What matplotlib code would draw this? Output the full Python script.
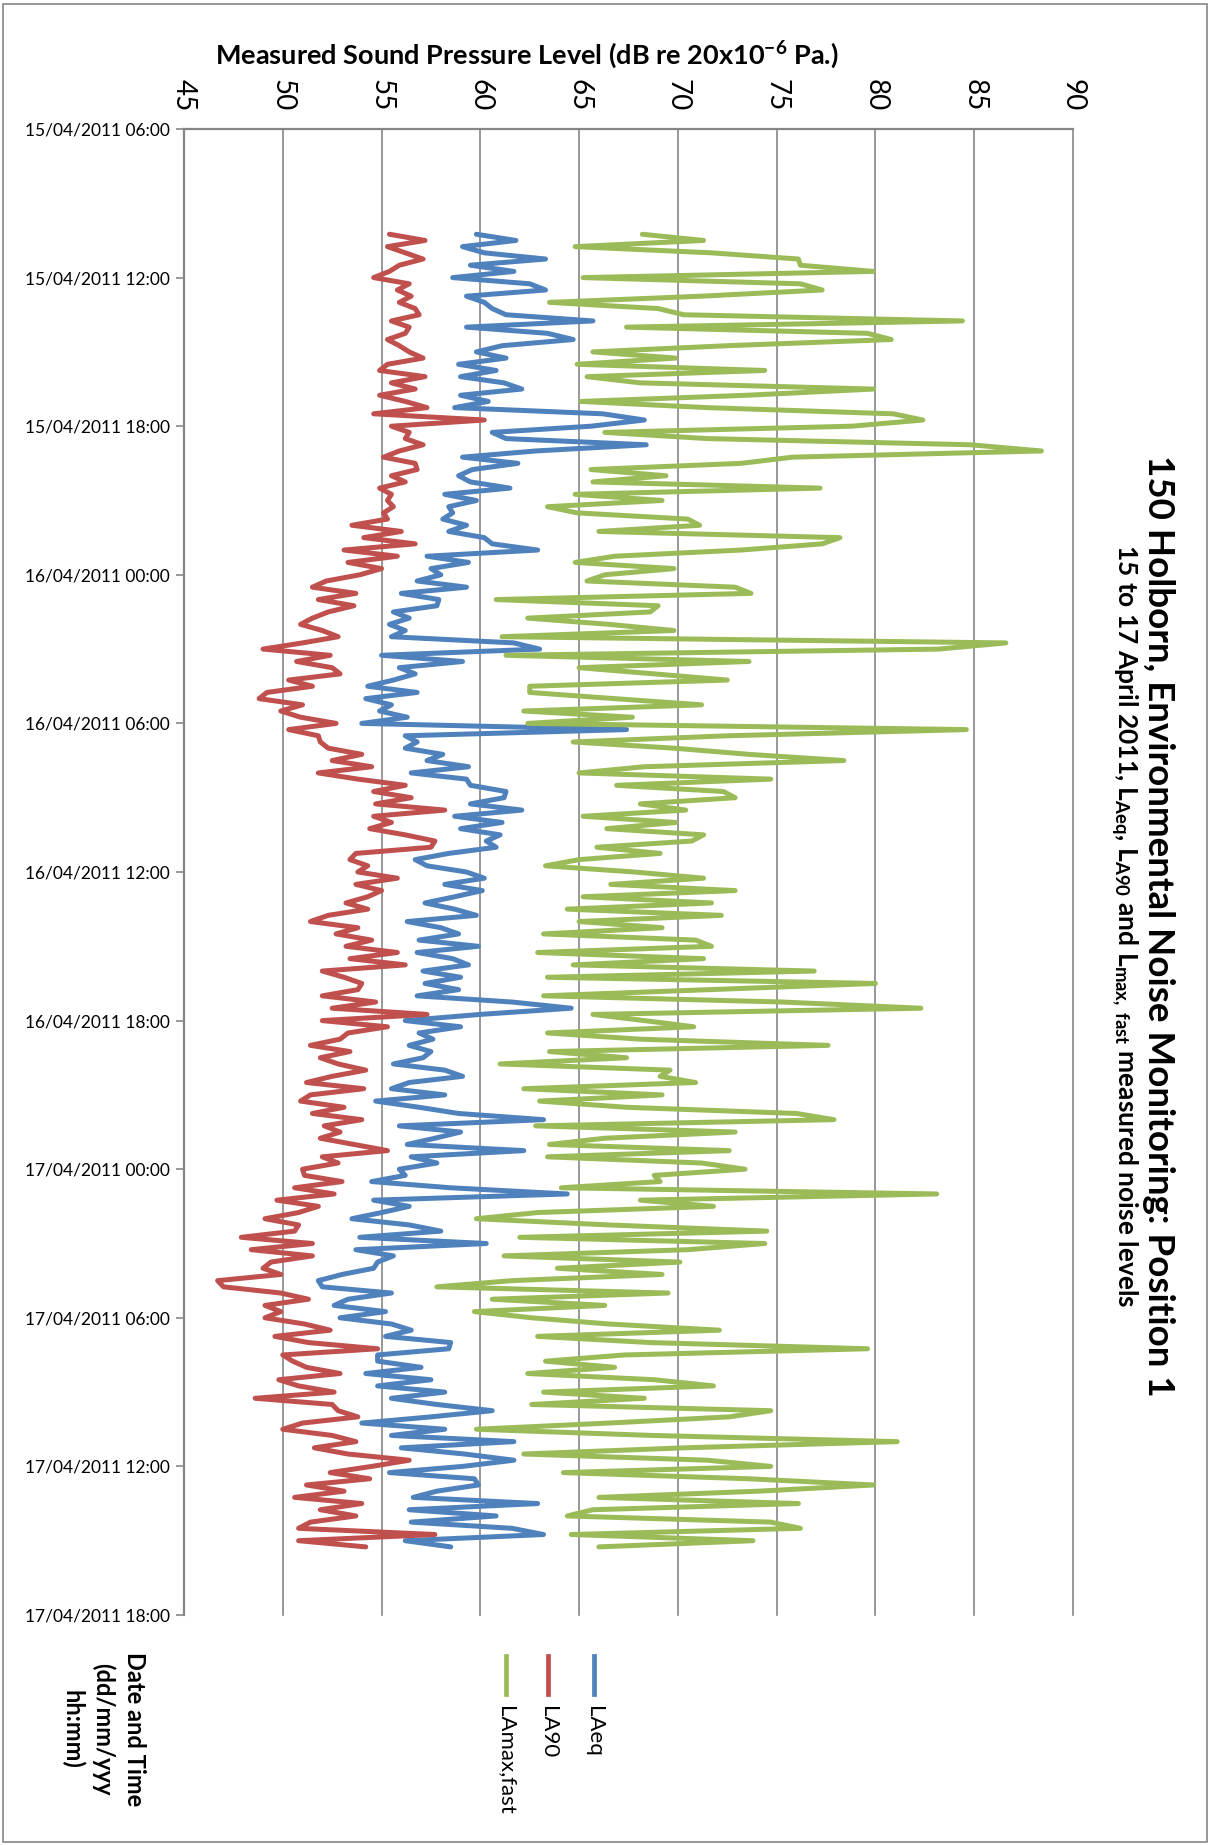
import matplotlib
matplotlib.use("Agg")
import matplotlib.pyplot as plt
import matplotlib.dates as mdates
from matplotlib.lines import Line2D
from matplotlib.patches import Rectangle
import datetime as dt
import pandas as pd

# 15 minute readings starting 15/04/2011 10:15
start = "2011-04-15 10:15"

laeq = [
    59.8, 61.8, 59.1, 60.2, 63.3, 59.5, 61.7, 58.6, 62.5, 63.3, 59.3, 60.2, 60.6, 61.3, 65.7,
    59.3, 63.4, 64.7, 61.1, 59.8, 61.3, 58.9, 60.8, 59.0, 61.2, 62.1, 59.0, 60.4, 58.7, 66.2,
    68.3, 65.6, 60.6, 61.3, 68.4, 62.8, 59.1, 61.9, 59.6, 58.9, 59.5, 61.5, 58.2, 59.8, 58.4,
    58.6, 58.1, 59.3, 58.4, 60.2, 60.6, 62.9, 57.3, 59.4, 57.5, 58.0, 56.8, 59.3, 56.0, 57.9,
    57.8, 55.6, 56.4, 55.4, 56.2, 55.5, 61.7, 63.0, 55.0, 59.1, 55.9, 56.7, 55.6, 54.3, 56.8,
    54.2, 55.5, 54.9, 56.3, 54.0, 67.4, 56.2, 56.8, 56.2, 58.1, 57.3, 59.4, 56.5, 59.3, 59.5, 61.3,
    61.2, 59.5, 62.1, 58.7, 61.1, 59.0, 61.0, 60.3, 60.8, 58.4, 56.7, 57.3, 59.3, 60.2, 58.2,
    60.1, 58.7, 57.2, 58.7, 59.8, 56.3, 58.0, 58.9, 56.9, 59.9, 56.8, 58.6, 59.4, 57.1, 59.0, 57.2,
    58.9, 56.8, 61.6, 64.6, 60.0, 56.2, 59.0, 56.9, 57.6, 56.4, 57.5, 57.1, 55.6, 58.2, 59.1,
    56.4, 55.5, 58.2, 54.7, 56.9, 58.9, 63.2, 55.9, 59.0, 57.7, 56.3, 62.2, 56.5, 57.8, 55.9,
    56.2, 54.5, 58.5, 64.4, 54.6, 56.4, 55.0, 53.5, 56.4, 58.0, 53.9, 60.3, 53.7, 55.6, 54.8,
    54.6, 53.0, 51.8, 52.0, 55.5, 53.3, 52.6, 55.2, 52.9, 55.5, 56.5, 55.2, 58.5, 58.4, 54.8, 54.8,
    57.0, 54.2, 57.5, 54.8, 58.2, 55.5, 57.8, 60.6, 57.5, 54.0, 58.2, 55.5, 61.7, 56.0, 59.2,
    61.7, 59.1, 55.4, 59.7, 59.9, 57.8, 56.6, 62.9, 56.4, 60.8, 56.5, 61.6, 63.2, 56.2, 58.5,
]

la90 = [
    55.4, 57.2, 55.3, 56.2, 57.1, 55.9, 55.4, 54.6, 56.4, 55.8, 56.5, 55.9, 56.7, 56.9, 55.5,
    56.4, 56.2, 55.3, 55.9, 56.4, 57.1, 55.3, 54.9, 57.2, 55.5, 56.7, 54.9, 56.2, 57.3, 54.6,
    60.2, 55.5, 56.4, 56.2, 57.1, 55.9, 55.1, 56.7, 56.8, 55.5, 56.2, 54.9, 55.5, 55.3, 55.6,
    55.1, 55.3, 53.5, 56.0, 54.1, 56.7, 53.1, 55.8, 53.3, 55.0, 53.9, 52.2, 51.5, 53.7, 51.8,
    53.6, 52.3, 51.5, 50.9, 52.0, 52.8, 51.0, 49.0, 52.4, 50.7, 52.5, 52.9, 50.3, 51.5, 49.2,
    48.8, 51.0, 49.9, 50.9, 52.7, 50.3, 51.8, 51.9, 52.3, 54.0, 52.5, 54.5, 51.8, 53.8, 56.2, 54.6,
    56.5, 54.7, 58.2, 54.6, 55.5, 54.4, 56.2, 57.7, 57.5, 53.7, 53.4, 54.3, 53.8, 55.8, 53.7,
    55.0, 54.3, 53.2, 54.3, 52.3, 51.4, 53.8, 52.7, 54.5, 53.2, 55.8, 53.4, 56.2, 52.0, 53.1, 54.0,
    53.8, 52.0, 54.7, 52.5, 57.3, 52.0, 55.3, 53.3, 52.9, 51.4, 53.4, 51.9, 52.8, 54.2, 52.5,
    51.2, 54.1, 51.4, 50.9, 53.1, 51.5, 54.0, 52.1, 52.9, 51.9, 53.6, 55.3, 52.0, 52.8, 51.0,
    51.1, 53.0, 50.6, 52.6, 49.7, 51.8, 50.8, 49.1, 50.8, 50.6, 47.9, 51.5, 48.4, 51.5, 49.4,
    49.0, 49.9, 46.7, 47.0, 49.9, 51.3, 49.1, 49.9, 49.1, 51.1, 52.4, 49.6, 51.3, 54.8, 50.0, 50.5,
    51.2, 52.9, 49.8, 50.8, 52.6, 48.6, 52.5, 52.8, 53.8, 51.0, 50.0, 52.5, 53.7, 51.6, 53.3,
    56.4, 54.5, 52.4, 54.4, 51.2, 53.1, 50.6, 54.0, 51.9, 53.7, 51.4, 50.8, 57.7, 50.8, 54.2,
]

lamax = [
    68.2, 71.3, 64.8, 71.7, 76.1, 76.2, 79.9, 65.2, 76.2, 77.3, 71.2, 63.5, 69.0, 70.3, 84.4,
    67.4, 79.6, 80.8, 72.5, 65.7, 69.9, 64.9, 74.4, 65.4, 68.1, 79.9, 73.5, 65.1, 71.5, 80.9,
    82.4, 78.8, 66.3, 71.5, 84.8, 88.4, 75.8, 73.2, 65.6, 69.4, 65.7, 77.2, 64.8, 69.2, 63.4,
    64.9, 70.5, 71.1, 66.0, 78.2, 77.3, 73.2, 66.8, 64.8, 69.8, 66.3, 65.4, 72.9, 73.7, 60.8,
    69.0, 68.6, 62.4, 66.5, 69.8, 61.1, 86.6, 83.2, 61.3, 73.6, 65.0, 68.8, 72.5, 62.5, 62.5,
    66.8, 71.2, 62.2, 67.7, 62.4, 84.6, 72.5, 64.7, 69.8, 73.6, 78.4, 68.3, 65.0, 74.7, 66.9, 72.3,
    72.9, 68.1, 70.4, 65.2, 69.9, 66.4, 71.3, 70.7, 65.9, 69.1, 65.0, 63.3, 67.8, 71.3, 66.6,
    72.9, 65.2, 71.7, 64.4, 72.2, 65.0, 69.2, 63.2, 70.9, 71.7, 62.9, 71.3, 64.7, 76.9, 63.4, 80.0,
    71.6, 63.2, 75.3, 82.3, 65.7, 68.3, 70.8, 63.4, 68.1, 77.6, 63.5, 67.4, 61.0, 69.6, 69.1,
    70.9, 62.2, 69.2, 63.0, 67.4, 76.0, 77.9, 62.8, 72.9, 66.3, 63.5, 72.6, 63.4, 71.2, 73.4,
    68.8, 69.1, 64.1, 83.1, 68.1, 71.8, 62.9, 59.8, 66.5, 74.5, 62.0, 74.4, 70.5, 61.2, 70.1,
    63.9, 69.2, 61.6, 57.8, 69.5, 60.6, 66.3, 59.7, 62.6, 66.5, 72.1, 62.9, 68.6, 79.6, 67.3, 63.3,
    66.8, 62.4, 68.8, 71.8, 63.2, 68.3, 62.6, 74.7, 72.6, 66.5, 59.8, 68.7, 81.1, 70.3, 62.2,
    71.5, 74.7, 64.2, 73.6, 79.9, 74.1, 66.0, 76.1, 65.7, 64.4, 74.7, 76.2, 64.6, 73.8, 66.0,
]

series = [("LAeq", laeq, "#4F81BD"), ("LA90", la90, "#C0504D"), ("LAmax,fast", lamax, "#9BBB59")]

W, H = 1213, 1845
GRID = "#868686"


def fx(px):
    return px / W


def fy(py):
    return 1 - py / H


plt.rcParams["font.family"] = ["Lato", "DejaVu Sans"]
plt.rcParams["mathtext.fontset"] = "custom"
plt.rcParams["mathtext.rm"] = "Lato"
plt.rcParams["mathtext.bf"] = "Lato:bold"
plt.rcParams["mathtext.it"] = "Lato:italic"

times = pd.date_range(start, periods=len(laeq), freq="15min").to_pydatetime()

fig = plt.figure(figsize=(W / 100, H / 100), dpi=100)
ax = fig.add_axes([fx(184), fy(1615), (1073 - 184) / W, (1615 - 129) / H])

for name, vals, col in series:
    ax.plot(vals, times, color=col, lw=3.6, solid_joinstyle="round", solid_capstyle="round")

ax.set_xlim(45, 90)
ax.set_xticks(range(45, 91, 5))
ax.set_ylim(dt.datetime(2011, 4, 17, 18), dt.datetime(2011, 4, 15, 6))
ax.yaxis.set_major_locator(mdates.HourLocator(byhour=[0, 6, 12, 18]))
ax.yaxis.set_major_formatter(mdates.DateFormatter("%d/%m/%Y %H:%M"))

ax.grid(axis="x", color=GRID, lw=1.2)
for g in ax.xaxis.get_gridlines():
    g.set_clip_on(False)
ax.set_axisbelow(True)
for s in ["right", "bottom"]:
    ax.spines[s].set_visible(False)
for s in ["top", "left"]:
    ax.spines[s].set_color(GRID)
    ax.spines[s].set_linewidth(1.6)

ax.xaxis.tick_top()
ax.tick_params(axis="x", length=0, pad=13, labelsize=20, labelrotation=270)
ax.tick_params(axis="y", length=6, width=1.2, color=GRID, pad=4, labelsize=12.5)

fig.text(fx(527), fy(55), r"Measured Sound Pressure Level (dB re 20x10$^{\mathbf{-6}}$ Pa.)",
         ha="center", va="center", fontsize=19.5, fontweight="bold")

fig.text(fx(1159), fy(926), "150 Holborn, Environmental Noise Monitoring: Position 1",
         rotation=270, ha="center", va="center", fontsize=26.5, fontweight="bold")
fig.text(fx(1124), fy(926),
         r"15 to 17 April 2011, L$_{\mathbf{Aeq}}$, L$_{\mathbf{A90}}$ and "
         r"L$_{\mathbf{max,\ fast}}$ measured noise levels",
         rotation=270, ha="center", va="center", fontsize=19, fontweight="bold")

fig.text(fx(103), fy(1729), "Date and Time\n(dd/mm/yyy\nhh:mm)", rotation=270,
         ha="center", va="center", multialignment="center", fontsize=17,
         fontweight="bold", linespacing=1.4)

# legend, drawn by hand because it is rotated
leg_x = [594, 548, 506]
for (name, vals, col), x in zip(series, leg_x):
    fig.add_artist(Line2D([fx(x), fx(x)], [fy(1656), fy(1694)], transform=fig.transFigure,
                          color=col, lw=3.4))
    fig.text(fx(x), fy(1706), name, rotation=270, ha="center", va="top", fontsize=16)

fig.add_artist(Rectangle((fx(3), fy(1842)), 1204 / W, 1838 / H, transform=fig.transFigure,
                         fill=False, edgecolor=GRID, lw=1.2))

fig.savefig("out.png", dpi=100)
